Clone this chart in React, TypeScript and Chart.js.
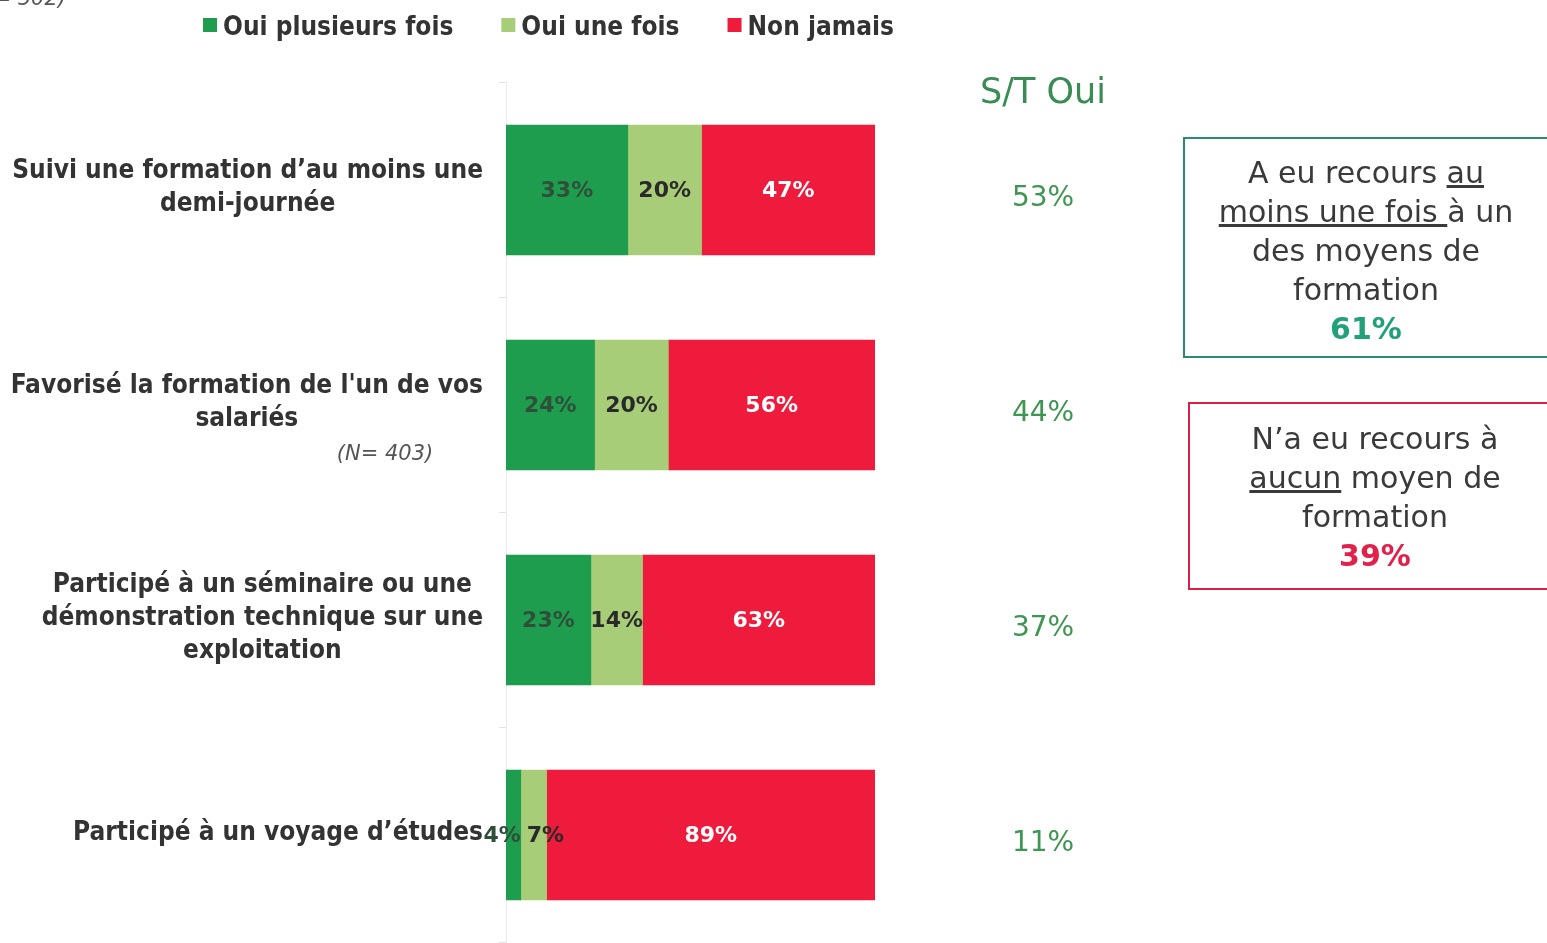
import React, { useEffect, useRef } from "react";
import { Chart, registerables } from "chart.js";

Chart.register(...registerables);

const categories: string[][] = [
  ["Suivi une formation d\u2019au moins une", "demi-journée"],
  ["Favorisé la formation de l'un de vos", "salariés"],
  ["Participé à un séminaire ou une", "démonstration technique sur une", "exploitation"],
  ["Participé à un voyage d\u2019études"],
];
const seriesNames = ["Oui plusieurs fois", "Oui une fois", "Non jamais"];
const ouiPlusieurs = [33, 24, 23, 4];
const ouiUne = [20, 20, 14, 7];
const nonJamais = [47, 56, 63, 89];
const stOui = [53, 44, 37, 11];
const stHeader = "S/T Oui";
const sampleNote = "(N= 403)";
const topNote = "(N= 502)";
const seriesColors = ["#1f9d4f", "#a8cd78", "#ee1b3d"];
const labelColors = ["#2f4f3a", "#2a2a2a", "#ffffff"];

const LABEL_FONT = "bold 26px 'DejaVu Sans Condensed', 'DejaVu Sans', sans-serif";

const overlayPlugin = {
  id: "overlay",
  afterDatasetsDraw(chart: any) {
    const ctx = chart.ctx as CanvasRenderingContext2D;
    const yScale = chart.scales.y;
    ctx.save();
    // data labels on segments
    ctx.font = "bold 22px 'DejaVu Sans', sans-serif";
    ctx.textBaseline = "middle";
    chart.data.datasets.forEach((ds: any, di: number) => {
      const meta = chart.getDatasetMeta(di);
      meta.data.forEach((bar: any, i: number) => {
        const txt = ds.data[i] + "%";
        const left = Math.min(bar.x, bar.base);
        const right = Math.max(bar.x, bar.base);
        const w = ctx.measureText(txt).width;
        const tooNarrow = w > right - left + 10;
        ctx.fillStyle = labelColors[di];
        if (tooNarrow && di === 0) {
          ctx.textAlign = "right";
          ctx.fillText(txt, right, bar.y + 1);
        } else if (tooNarrow && di === 1) {
          ctx.textAlign = "left";
          ctx.fillText(txt, left + 6, bar.y + 1);
        } else {
          ctx.textAlign = "center";
          ctx.fillText(txt, (left + right) / 2, bar.y + 1);
        }
      });
    });

    // category labels: block right-aligned, lines centered in block
    ctx.textAlign = "center";
    ctx.font = LABEL_FONT;
    ctx.fillStyle = "#333333";
    const lh = 33;
    categories.forEach((lines, i) => {
      const cy = yScale.getPixelForValue(i) - 2;
      const maxW = Math.max(...lines.map((l) => ctx.measureText(l).width));
      const cx = 483 - maxW / 2;
      const y0 = cy - ((lines.length - 1) * lh) / 2;
      lines.forEach((l, k) => ctx.fillText(l, cx, y0 + k * lh));
    });

    // N note
    ctx.font = "italic 21px 'DejaVu Sans', sans-serif";
    ctx.fillStyle = "#555555";
    ctx.fillText(sampleNote, 385, yScale.getPixelForValue(1) + 50);
    ctx.textAlign = "right";
    ctx.textBaseline = "alphabetic";
    ctx.fillText(topNote, 66, 5);

    // S/T Oui column
    ctx.textAlign = "center";
    ctx.textBaseline = "middle";
    ctx.font = "35px 'DejaVu Sans', sans-serif";
    ctx.fillStyle = "#3a8c55";
    ctx.fillText(stHeader, 1043, 94);
    ctx.font = "28px 'DejaVu Sans', sans-serif";
    ctx.fillStyle = "#3f9552";
    stOui.forEach((v, i) => {
      ctx.fillText(v + "%", 1043, yScale.getPixelForValue(i) + 9);
    });

    // legend
    ctx.font = "bold 26px 'DejaVu Sans Condensed', 'DejaVu Sans', sans-serif";
    ctx.textAlign = "left";
    let x = 203;
    seriesNames.forEach((name, i) => {
      ctx.fillStyle = seriesColors[i];
      ctx.fillRect(x, 18, 14, 14);
      ctx.fillStyle = "#333333";
      ctx.fillText(name, x + 20, 28);
      x += 20 + ctx.measureText(name).width + 48;
    });
    ctx.restore();
  },
};

export default function App() {
  const ref = useRef<HTMLCanvasElement | null>(null);
  useEffect(() => {
    if (!ref.current) return;
    const chart = new Chart(ref.current, {
      type: "bar",
      data: {
        labels: categories.map((c) => c.join(" ")),
        datasets: [
          { label: seriesNames[0], data: ouiPlusieurs, backgroundColor: seriesColors[0] },
          { label: seriesNames[1], data: ouiUne, backgroundColor: seriesColors[1] },
          { label: seriesNames[2], data: nonJamais, backgroundColor: seriesColors[2] },
        ],
      },
      options: {
        indexAxis: "y",
        responsive: false,
        animation: false,
        layout: { padding: { left: 499, right: 672, top: 82.5, bottom: 0.5 } },
        datasets: { bar: { barThickness: 130 } },
        scales: {
          x: { stacked: true, min: 0, max: 100, display: false },
          y: {
            stacked: true,
            ticks: { display: false },
            grid: { drawOnChartArea: false, drawTicks: true, tickLength: 7, color: "#e2e2e2" },
            border: { color: "#ececec" },
          },
        },
        plugins: { legend: { display: false }, tooltip: { enabled: false }, title: { display: false } },
      },
      plugins: [overlayPlugin],
    } as any);
    return () => chart.destroy();
  }, []);

  const boxText: React.CSSProperties = {
    fontFamily: "'DejaVu Sans', sans-serif",
    fontSize: 30,
    lineHeight: "39px",
    color: "#3a3a3a",
    textAlign: "center",
    whiteSpace: "nowrap",
  };

  return (
    <div style={{ position: "fixed", left: 0, top: 0, width: 1547, height: 943, background: "#fff", overflow: "hidden" }}>
      <canvas ref={ref} width={1547} height={943} style={{ position: "absolute", left: 0, top: 0, width: 1547, height: 943 }} />
      <div
        style={{
          ...boxText,
          position: "absolute",
          left: 1183,
          top: 137,
          width: 366,
          height: 221,
          border: "2.5px solid #2b8b72",
          paddingTop: 14,
          boxSizing: "border-box",
        }}
      >
        <div>A eu recours <u>au</u></div>
        <div><u>moins une fois </u>à un</div>
        <div>des moyens de</div>
        <div>formation</div>
        <div style={{ fontWeight: "bold", color: "#22a07a" }}>61%</div>
      </div>
      <div
        style={{
          ...boxText,
          position: "absolute",
          left: 1188,
          top: 402,
          width: 374,
          height: 188,
          border: "2.5px solid #d91f4c",
          paddingTop: 15,
          boxSizing: "border-box",
        }}
      >
        <div>N&#8217;a eu recours à</div>
        <div><u>aucun</u> moyen de</div>
        <div>formation</div>
        <div style={{ fontWeight: "bold", color: "#e2204a" }}>39%</div>
      </div>
    </div>
  );
}
